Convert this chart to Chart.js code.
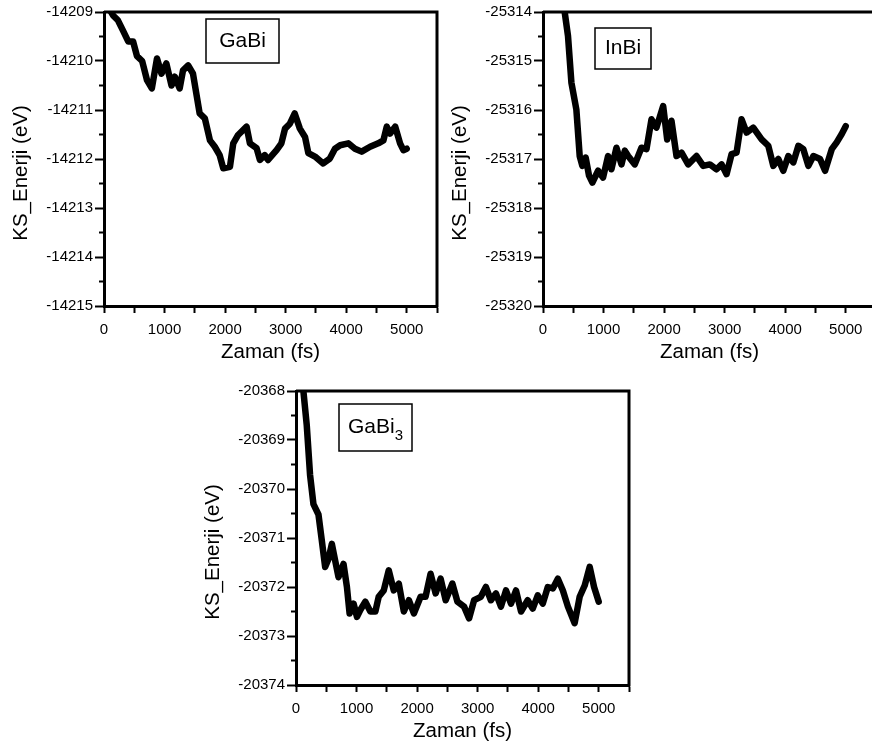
<!DOCTYPE html>
<html>
<head>
<meta charset="utf-8">
<script src="https://cdn.jsdelivr.net/npm/chart.js@4.4.1/dist/chart.umd.min.js"></script>
<style>
  html, body { margin: 0; padding: 0; background: #fff; }
  body { width: 872px; height: 753px; overflow: hidden; position: relative; }
  .panel { position: absolute; }
</style>
</head>
<body>
<div class="panel" style="left:0px;top:0px"><canvas id="gabi" width="445" height="365"></canvas></div>
<div class="panel" style="left:439px;top:0px"><canvas id="inbi" width="445" height="365"></canvas></div>
<div class="panel" style="left:192px;top:379px"><canvas id="gabi3" width="445" height="365"></canvas></div>
<script>
// GaBi (fs, eV)
const gabiTime = [0, 150, 230, 310, 400, 480, 545, 630, 710, 790, 875, 950, 1030, 1115, 1170, 1250, 1305, 1390, 1470, 1580,
  1665, 1750, 1830, 1910, 1970, 2080, 2135, 2215, 2355, 2410, 2520, 2575, 2655, 2710, 2850, 2930, 2990, 3070, 3150, 3235,
  3320, 3375, 3485, 3620, 3730, 3815, 3900, 4035, 4145, 4255, 4395, 4530, 4615, 4670, 4725, 4810, 4890, 4945, 5000];
const gabiEnergy = [-14208.75, -14209.07, -14209.17, -14209.37, -14209.6, -14209.6, -14209.9, -14210.0, -14210.39, -14210.56,
  -14209.95, -14210.26, -14210.05, -14210.5, -14210.32, -14210.56, -14210.19, -14210.09, -14210.26, -14211.07,
  -14211.17, -14211.62, -14211.75, -14211.92, -14212.19, -14212.16, -14211.68, -14211.51, -14211.34, -14211.68,
  -14211.78, -14212.02, -14211.92, -14212.02, -14211.82, -14211.68, -14211.38, -14211.28, -14211.07, -14211.38,
  -14211.55, -14211.88, -14211.95, -14212.09, -14211.99, -14211.79, -14211.72, -14211.68, -14211.79, -14211.85,
  -14211.75, -14211.68, -14211.62, -14211.34, -14211.48, -14211.34, -14211.68, -14211.82, -14211.79];

// InBi
const inbiTime = [250, 358, 413, 469, 551, 606, 650, 705, 760, 816, 910, 992, 1075, 1130, 1213, 1296, 1351, 1406, 1516, 1626,
  1709, 1792, 1874, 1985, 2051, 2122, 2205, 2288, 2398, 2536, 2646, 2756, 2867, 2950, 3032, 3115, 3197, 3280, 3363, 3473,
  3611, 3721, 3804, 3887, 3969, 4052, 4135, 4218, 4300, 4383, 4466, 4576, 4659, 4769, 4851, 4934, 5000];
const inbiEnergy = [-25313.3, -25314.0, -25314.49, -25315.44, -25315.99, -25316.94, -25317.14, -25316.97, -25317.34, -25317.48,
  -25317.24, -25317.38, -25316.94, -25317.21, -25316.77, -25317.11, -25316.83, -25316.94, -25317.11, -25316.77,
  -25316.80, -25316.19, -25316.36, -25315.92, -25316.60, -25316.22, -25316.94, -25316.87, -25317.11, -25316.94,
  -25317.14, -25317.11, -25317.21, -25317.11, -25317.31, -25316.90, -25316.87, -25316.19, -25316.46, -25316.36,
  -25316.60, -25316.73, -25317.14, -25317.00, -25317.24, -25316.94, -25317.07, -25316.73, -25316.80, -25317.14,
  -25316.94, -25317.00, -25317.24, -25316.80, -25316.66, -25316.49, -25316.33];

// GaBi3
const gabi3Time = [80, 122, 177, 232, 288, 371, 426, 481, 537, 592, 647, 702, 785, 841, 885, 951, 1007, 1062, 1145, 1228,
  1311, 1366, 1449, 1532, 1615, 1698, 1781, 1864, 1947, 2058, 2140, 2223, 2306, 2389, 2472, 2583, 2666, 2776, 2859, 2942,
  3053, 3136, 3219, 3302, 3385, 3468, 3551, 3634, 3717, 3827, 3910, 3993, 4076, 4159, 4242, 4325, 4408, 4491, 4602, 4685,
  4768, 4851, 4923, 5000];
const gabi3Energy = [-20367.7, -20368.0, -20368.69, -20369.71, -20370.31, -20370.52, -20371.05, -20371.59, -20371.43, -20371.12,
  -20371.46, -20371.80, -20371.53, -20372.0, -20372.54, -20372.34, -20372.61, -20372.47, -20372.30, -20372.50,
  -20372.50, -20372.20, -20372.07, -20371.66, -20372.07, -20371.93, -20372.50, -20372.27, -20372.54, -20372.20,
  -20372.20, -20371.73, -20372.13, -20371.83, -20372.27, -20371.93, -20372.30, -20372.40, -20372.64, -20372.27,
  -20372.20, -20372.0, -20372.27, -20372.13, -20372.40, -20372.07, -20372.34, -20372.07, -20372.50, -20372.27,
  -20372.44, -20372.17, -20372.34, -20372.0, -20372.03, -20371.83, -20372.07, -20372.40, -20372.74, -20372.20,
  -20371.97, -20371.59, -20372.0, -20372.30];

const xTitle = 'Zaman (fs)';
const yTitle = 'KS_Enerji (eV)';
const FONT = "'Liberation Sans', Arial, sans-serif";

// top/right frame, minor y ticks, rotated y title and the sample label box
const framePlugin = {
  id: 'frame',
  afterDraw(chart, args, opts) {
    const { ctx, chartArea: a, scales: { y } } = chart;
    ctx.save();
    ctx.strokeStyle = '#000';
    ctx.lineWidth = 3;
    ctx.beginPath();
    ctx.moveTo(a.left, a.top);
    ctx.lineTo(a.right, a.top);
    ctx.lineTo(a.right, a.bottom + 1.5);
    ctx.stroke();

    ctx.lineWidth = 2;
    for (let v = y.min + 0.5; v < y.max; v += 1) {
      const py = y.getPixelForValue(v);
      ctx.beginPath();
      ctx.moveTo(a.left - 5, py);
      ctx.lineTo(a.left, py);
      ctx.stroke();
    }

    ctx.fillStyle = '#000';
    ctx.font = '20.5px ' + FONT;
    ctx.textAlign = 'center';
    ctx.textBaseline = 'middle';
    ctx.save();
    ctx.translate(21, (a.top + a.bottom) / 2 + 14);
    ctx.rotate(-Math.PI / 2);
    ctx.fillText(yTitle, 0, 0);
    ctx.restore();

    const b = opts.box;
    const bx = a.left + b[0], by = a.top + b[1], bw = b[2] - b[0], bh = b[3] - b[1];
    ctx.lineWidth = 1.5;
    ctx.strokeRect(bx, by, bw, bh);
    ctx.font = '21px ' + FONT;
    ctx.textAlign = 'left';
    const mainW = ctx.measureText(opts.label).width;
    ctx.font = '15px ' + FONT;
    const subW = opts.sub ? ctx.measureText(opts.sub).width : 0;
    let tx = bx + (bw - mainW - subW) / 2;
    ctx.font = '21px ' + FONT;
    ctx.fillText(opts.label, tx, by + bh / 2);
    if (opts.sub) {
      ctx.font = '15px ' + FONT;
      ctx.fillText(opts.sub, tx + mainW, by + bh / 2 + 8);
    }
    ctx.restore();
  }
};

function makePanel(id, times, energies, yMin, yMax, label, sub, box) {
  const ctx = document.getElementById(id).getContext('2d');
  return new Chart(ctx, {
    type: 'line',
    data: {
      datasets: [{
        data: times.map((t, i) => ({ x: t, y: energies[i] })),
        borderColor: '#000',
        borderWidth: 6.5,
        borderJoinStyle: 'round',
        borderCapStyle: 'round',
        pointRadius: 0,
        tension: 0,
        clip: 0
      }]
    },
    options: {
      responsive: false,
      animation: false,
      layout: { padding: { top: 12, right: 8, bottom: 0, left: 0 } },
      plugins: {
        legend: { display: false },
        tooltip: { enabled: false },
        frame: { label, sub, box }
      },
      scales: {
        x: {
          type: 'linear',
          min: 0,
          max: 5500,
          afterFit: s => { s.height = 59; },
          ticks: {
            stepSize: 500,
            autoSkip: false,
            maxRotation: 0,
            padding: 8,
            color: '#000',
            font: { family: FONT, size: 15 },
            callback: v => (v % 1000 === 0 && v <= 5000) ? String(v) : ''
          },
          grid: { drawOnChartArea: false, tickLength: 7, tickWidth: 2, tickColor: '#000' },
          border: { display: true, width: 3, color: '#000' },
          title: { display: true, text: xTitle, color: '#000', padding: 0, font: { family: FONT, size: 20.5 } }
        },
        y: {
          min: yMin,
          max: yMax,
          afterFit: s => { s.width = 104; },
          ticks: {
            stepSize: 1,
            padding: 2,
            color: '#000',
            font: { family: FONT, size: 15 },
            callback: v => String(v)
          },
          grid: { drawOnChartArea: false, tickLength: 9, tickWidth: 2, tickColor: '#000' },
          border: { display: true, width: 3, color: '#000' }
        }
      }
    },
    plugins: [framePlugin]
  });
}

makePanel('gabi', gabiTime, gabiEnergy, -14215, -14209, 'GaBi', '', [102, 7, 175, 51]);
makePanel('inbi', inbiTime, inbiEnergy, -25320, -25314, 'InBi', '', [52, 16, 108, 57]);
makePanel('gabi3', gabi3Time, gabi3Energy, -20374, -20368, 'GaBi', '3', [43, 13, 116, 60]);
</script>
</body>
</html>
